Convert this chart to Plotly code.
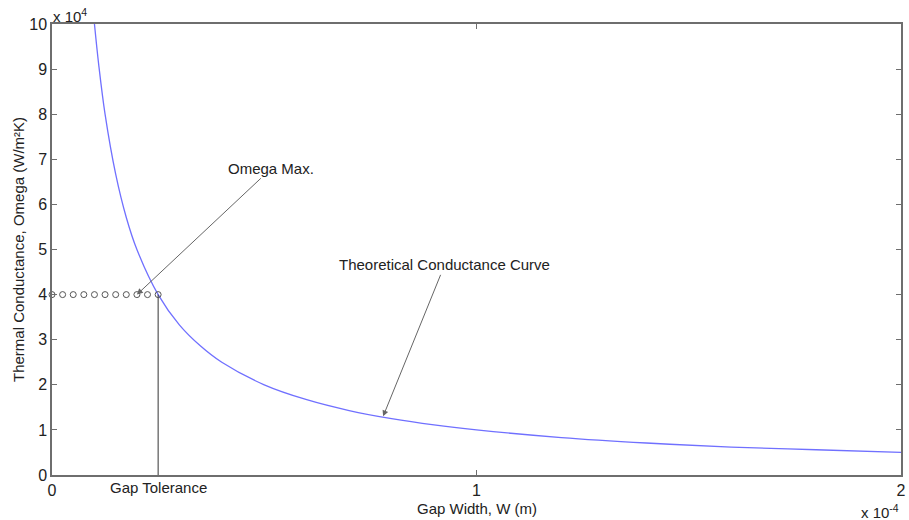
import plotly.graph_objects as go

# Data (x in units of 1e-4 m, y in units of 1e4 W/m^2K)
curve_x = [0.1, 0.11, 0.125, 0.15, 0.175, 0.2, 0.25, 0.3, 0.35, 0.4, 0.5, 0.6, 0.7, 0.8, 0.9,
           1.0, 1.2, 1.4, 1.6, 1.8, 2.0]
curve_y = [10.0, 9.1, 8.0, 6.67, 5.71, 5.0, 4.0, 3.33, 2.86, 2.5, 2.0, 1.67, 1.43, 1.25, 1.11,
           1.0, 0.83, 0.71, 0.62, 0.56, 0.5]
marker_x = [0, 0.025, 0.05, 0.075, 0.1, 0.125, 0.15, 0.175, 0.2, 0.225, 0.25]
marker_y = [4, 4, 4, 4, 4, 4, 4, 4, 4, 4, 4]
gap_x = [0.25, 0.25]
gap_y = [4, 0]
x_ticks = [0, 1, 2]
y_ticks = [0, 1, 2, 3, 4, 5, 6, 7, 8, 9, 10]

font = "Liberation Sans, Arial, sans-serif"
axis_col = "#6e6e6e"
fs = 15

fig = go.Figure()
fig.add_trace(go.Scatter(x=curve_x, y=curve_y, mode="lines",
                         line=dict(color="#7070ff", width=1.3, shape="spline"),
                         hoverinfo="skip"))
fig.add_trace(go.Scatter(x=gap_x, y=gap_y, mode="lines",
                         line=dict(color="#333333", width=1)))
fig.add_trace(go.Scatter(x=marker_x, y=marker_y, mode="markers",
                         marker=dict(symbol="circle-open", size=6, color="#555555",
                                     line=dict(width=1)), cliponaxis=False))

axis_common = dict(showline=True, linecolor=axis_col, linewidth=1.5, mirror="ticks",
                   ticks="inside", ticklen=5, tickcolor=axis_col, showgrid=False,
                   zeroline=False, tickfont=dict(family=font, size=16, color="#222"))

fig.update_layout(
    width=909, height=520,
    margin=dict(l=52, r=3, t=24, b=45),
    plot_bgcolor="white", paper_bgcolor="white",
    showlegend=False,
    font=dict(family=font, size=fs, color="#222"),
    xaxis=dict(range=[0, 2], tickvals=x_ticks, ticktext=[str(v) for v in x_ticks],
               **axis_common),
    yaxis=dict(range=[0, 10], tickvals=y_ticks, ticktext=[str(v) for v in y_ticks],
               title=dict(text="Thermal Conductance, Omega (W/m²K)", font=dict(size=fs),
                          standoff=1),
               **axis_common),
)

fig.add_annotation(x=0.5, y=0, xref="paper", yref="paper", text="Gap Width, W (m)",
                   showarrow=False, xanchor="center", yanchor="middle", yshift=-33,
                   font=dict(size=fs))
fig.add_annotation(x=0, y=1, xref="paper", yref="paper", text="x 10<sup>4</sup>",
                   showarrow=False, xanchor="left", yanchor="bottom", xshift=-1, yshift=-3,
                   font=dict(size=fs))
fig.add_annotation(x=1, y=0, xref="paper", yref="paper", text="x 10<sup>-4</sup>",
                   showarrow=False, xanchor="right", yanchor="top", yshift=-25,
                   font=dict(size=fs))
fig.add_annotation(x=gap_x[0], y=0, xref="x", yref="paper", text="Gap Tolerance",
                   showarrow=False, xanchor="center", yanchor="top", yshift=-2,
                   font=dict(size=fs))
fig.add_annotation(x=0.2, y=4, ax=0.517, ay=6.8, axref="x", ayref="y",
                   text="Omega Max.", showarrow=True, arrowhead=2, arrowsize=1.2,
                   arrowwidth=1, arrowcolor="#666", standoff=0, font=dict(size=fs))
fig.add_annotation(x=0.78, y=1.3, ax=0.925, ay=4.66, axref="x", ayref="y",
                   text="Theoretical Conductance Curve", showarrow=True, arrowhead=2,
                   arrowsize=1.2, arrowwidth=1, arrowcolor="#666", standoff=0,
                   font=dict(size=fs))

fig.write_html("out.html")
